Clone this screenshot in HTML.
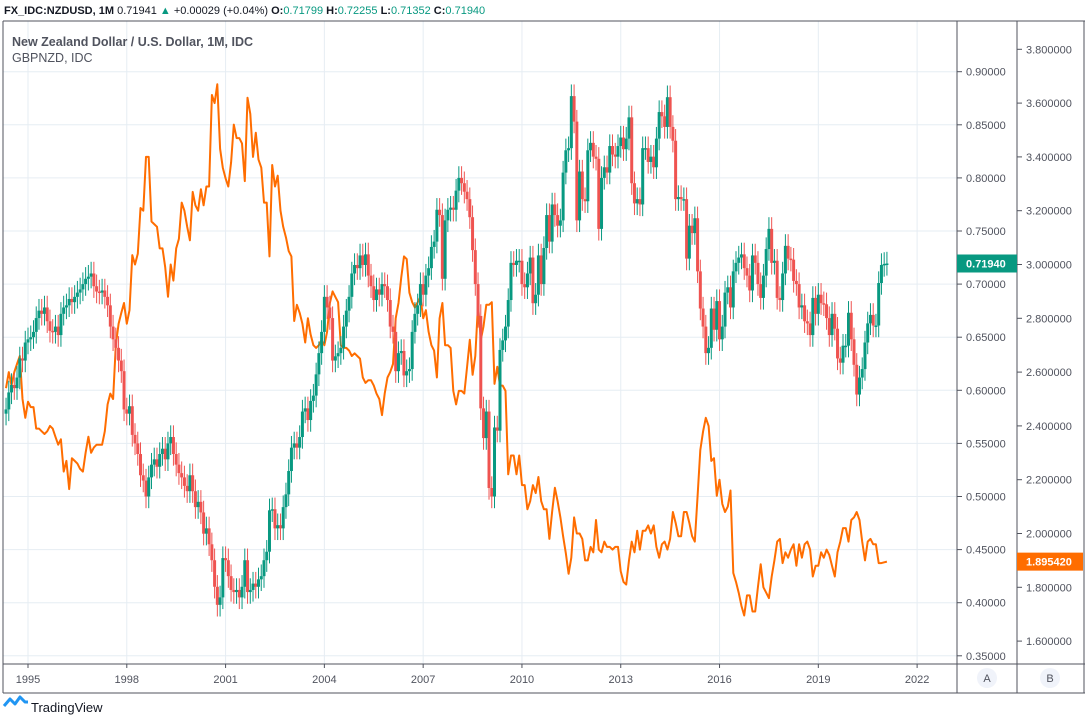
<!DOCTYPE html>
<html><head><meta charset="utf-8"><style>
html,body{margin:0;padding:0;background:#fff;width:1085px;height:722px;overflow:hidden;font-family:"Liberation Sans",sans-serif}
svg text{font-family:"Liberation Sans",sans-serif}
</style></head><body>
<svg id="chart" width="1085" height="722" xmlns="http://www.w3.org/2000/svg">
<rect width="1085" height="722" fill="#fff"/>
<g id="grid"></g>
<g id="line"></g>
<g id="candles"></g>
<g id="axes"></g>
<text x="4" y="14" font-size="11" fill="#131722"><tspan font-weight="bold">FX_IDC:NZDUSD, 1M</tspan> 0.71941 <tspan fill="#089981">▲</tspan> +0.00029 (+0.04%) <tspan font-weight="bold">O:</tspan><tspan fill="#089981">0.71799</tspan> <tspan font-weight="bold">H:</tspan><tspan fill="#089981">0.72255</tspan> <tspan font-weight="bold">L:</tspan><tspan fill="#089981">0.71352</tspan> <tspan font-weight="bold">C:</tspan><tspan fill="#089981">0.71940</tspan></text>
<text x="12" y="46" font-size="12.5" font-weight="bold" fill="#50535e">New Zealand Dollar / U.S. Dollar, 1M, IDC</text>
<text x="12" y="62" font-size="12.5" fill="#50535e">GBPNZD, IDC</text>
<g>
<path d="M4 706 L10 699 L15 704 L20 697 L25 702 L28 702" stroke="#2196f3" stroke-width="3" fill="none" stroke-linejoin="round"/>
<text x="31" y="712" font-size="13" fill="#131722">TradingView</text>
</g>
</svg>
<script>
const startYear = 1994, startMonth = 4; // May 1994 (0-based month)
const nzdClose = [
0.582,0.598,0.605,0.602,0.612,0.630,0.628,0.645,
0.648,0.650,0.655,0.668,0.675,0.672,0.678,0.665,0.656,0.655,0.660,0.652,
0.672,0.678,0.680,0.686,0.683,0.688,0.692,0.695,0.700,0.705,0.707,0.710,
0.698,0.693,0.692,0.694,0.688,0.680,0.660,0.648,0.640,0.628,0.618,0.582,
0.578,0.585,0.558,0.550,0.540,0.520,0.515,0.500,0.518,0.530,0.535,0.528,
0.540,0.545,0.535,0.550,0.556,0.540,0.530,0.522,0.518,0.510,0.505,0.520,
0.505,0.490,0.495,0.485,0.465,0.470,0.455,0.440,0.415,0.398,0.405,0.442,
0.440,0.425,0.412,0.410,0.412,0.405,0.415,0.440,0.410,0.412,0.418,0.415,
0.422,0.425,0.440,0.448,0.487,0.488,0.470,0.473,0.470,0.490,0.502,0.524,
0.546,0.550,0.546,0.556,0.580,0.583,0.572,0.590,0.595,0.615,0.635,0.655,
0.688,0.678,0.668,0.628,0.632,0.635,0.640,0.660,0.675,0.688,0.710,0.718,
0.715,0.727,0.718,0.728,0.708,0.698,0.685,0.695,0.690,0.700,0.698,0.685,
0.660,0.655,0.618,0.635,0.637,0.614,0.618,0.620,0.655,0.672,0.680,0.700,
0.690,0.708,0.715,0.735,0.740,0.770,0.765,0.705,0.760,0.770,0.772,0.770,
0.788,0.800,0.795,0.787,0.780,0.763,0.732,0.700,0.670,0.583,0.555,0.580,
0.508,0.500,0.565,0.562,0.638,0.647,0.660,0.685,0.720,0.718,0.722,0.722,
0.700,0.697,0.710,0.725,0.682,0.690,0.727,0.700,0.734,0.765,0.740,0.775,
0.765,0.755,0.760,0.805,0.826,0.828,0.877,0.853,0.760,0.806,0.780,0.778,
0.826,0.833,0.820,0.818,0.752,0.800,0.810,0.805,0.830,0.822,0.820,0.830,
0.838,0.827,0.837,0.857,0.795,0.776,0.780,0.775,0.828,0.828,0.815,0.820,
0.810,0.837,0.862,0.858,0.848,0.876,0.848,0.835,0.780,0.782,0.780,0.780,
0.724,0.755,0.748,0.762,0.712,0.677,0.660,0.635,0.640,0.677,0.657,0.684,
0.648,0.660,0.692,0.697,0.678,0.712,0.720,0.725,0.728,0.715,0.708,0.694,
0.727,0.720,0.700,0.687,0.708,0.733,0.752,0.720,0.722,0.687,0.685,0.710,
0.736,0.724,0.723,0.703,0.700,0.678,0.680,0.665,0.663,0.652,0.687,0.672,
0.690,0.682,0.681,0.668,0.652,0.672,0.658,0.630,0.626,0.642,0.642,0.673,
0.648,0.624,0.596,0.612,0.620,0.645,0.663,0.671,0.661,0.661,0.701,0.718,
0.719,0.7194];
const gbpnzd = [
2.54,2.60,2.55,2.60,2.63,2.66,2.50,2.43,
2.49,2.47,2.47,2.39,2.39,2.38,2.37,2.38,2.40,2.39,2.36,2.33,
2.35,2.23,2.27,2.165,2.28,2.27,2.26,2.24,2.23,2.30,2.36,2.30,
2.32,2.33,2.33,2.33,2.38,2.48,2.52,2.50,2.70,2.78,2.82,2.857,
2.78,2.83,3.035,3.00,3.04,3.21,3.20,3.40,3.40,3.16,3.15,3.14,
3.06,3.06,2.99,2.88,3.00,2.94,3.06,3.095,3.23,3.20,3.14,3.09,
3.27,3.22,3.20,3.28,3.22,3.29,3.29,3.63,3.60,3.67,3.43,3.36,
3.32,3.29,3.38,3.52,3.47,3.47,3.45,3.31,3.62,3.56,3.40,3.49,
3.39,3.36,3.23,3.23,3.03,3.37,3.29,3.33,3.20,3.14,3.10,3.05,
3.03,2.79,2.85,2.82,2.78,2.71,2.80,2.74,2.70,2.69,2.70,2.72,
2.70,2.75,2.857,2.90,2.88,2.86,2.70,2.69,2.69,2.68,2.66,2.67,
2.66,2.65,2.58,2.56,2.57,2.57,2.55,2.52,2.50,2.44,2.52,2.58,
2.60,2.63,2.80,2.857,2.95,3.03,3.02,2.895,2.86,2.84,2.86,2.88,
2.80,2.83,2.75,2.70,2.68,2.58,2.80,2.857,2.70,2.70,2.69,2.53,
2.48,2.53,2.53,2.52,2.62,2.72,2.59,2.66,2.85,2.72,2.77,2.85,
2.85,2.86,2.556,2.62,2.55,2.55,2.53,2.22,2.29,2.29,2.22,2.29,
2.18,2.18,2.09,2.12,2.18,2.15,2.21,2.12,2.09,2.09,1.98,2.08,
2.17,2.12,2.06,1.99,1.925,1.85,1.91,2.06,2.00,2.00,1.98,1.90,
1.90,1.95,1.93,2.05,1.94,1.93,1.97,1.95,1.95,1.94,1.95,1.95,
1.86,1.82,1.81,1.90,1.97,1.93,2.01,1.94,2.01,2.01,2.03,2.00,
2.03,1.95,1.91,1.96,1.97,1.94,1.98,2.08,2.04,1.99,1.99,2.08,
2.08,2.04,1.99,1.97,2.14,2.31,2.38,2.43,2.40,2.27,2.28,2.14,
2.20,2.11,2.08,2.10,2.16,1.853,1.82,1.78,1.73,1.695,1.77,1.77,
1.71,1.71,1.80,1.886,1.80,1.78,1.76,1.84,1.90,1.97,1.98,1.89,
1.93,1.91,1.94,1.96,1.88,1.96,1.91,1.96,1.97,1.94,1.84,1.88,
1.88,1.93,1.91,1.94,1.92,1.88,1.84,1.93,1.97,2.02,2.02,1.97,
2.05,2.06,2.08,2.05,1.97,1.90,1.97,1.98,1.96,1.96,1.89,1.89,
1.893,1.89542];
const yearTicks = [1995,1998,2001,2004,2007,2010,2013,2016,2019,2022];
const ticksA = [0.90,0.85,0.80,0.75,0.70,0.65,0.60,0.55,0.50,0.45,0.40,0.35];
const ticksB = [3.8,3.6,3.4,3.2,3.0,2.8,2.6,2.4,2.2,2.0,1.8,1.6];

const NS='http://www.w3.org/2000/svg';
const plotL=3, plotR=957, plotT=21, plotB=664;
function xT(t){return 28+(t-1995)*32.93;}
function xM(i){const m=startMonth+i;return xT(startYear+m/12);}
function yA(v){return 71.7+(0.90-v)*1062;}
function yB(v){return 49.3+(3.8-v)/0.2*53.8;}
function mk(tag,attrs,parent){const e=document.createElementNS(NS,tag);for(const k in attrs)e.setAttribute(k,attrs[k]);parent.appendChild(e);return e;}

const grid=document.getElementById('grid');
const axes=document.getElementById('axes');
ticksA.forEach(v=>{
  const l=mk('line',{x1:plotL,x2:plotR,y1:yA(v),y2:yA(v),stroke:'#e6edf3','stroke-width':1},grid);
  
  
});
yearTicks.forEach(y=>{
  const l=mk('line',{x1:xT(y),x2:xT(y),y1:plotT,y2:plotB,stroke:'#e6edf3','stroke-width':1},grid);
  
  
});

let d='';
gbpnzd.forEach((v,i)=>{d+=(i?'L':'M')+xM(i).toFixed(1)+' '+yB(v).toFixed(1);});
const path=mk('path',{d:d,fill:'none',stroke:'#ff6d00','stroke-width':2,'stroke-linejoin':'round'},document.getElementById('line'));



const cg=document.getElementById('candles');
nzdClose.forEach((c,i)=>{
  const o=i?nzdClose[i-1]:c-0.004;
  const up=c>=o;
  const col=up?'#089981':'#ef5350';
  const hi=Math.max(o,c)+0.011, lo=Math.min(o,c)-0.011;
  const x=xM(i);
  const g=mk('g',{},cg);
  
  
  mk('line',{x1:x,x2:x,y1:yA(hi),y2:yA(lo),stroke:col,'stroke-width':1},g);
  const top=yA(Math.max(o,c)), h=Math.max(1.5,yA(Math.min(o,c))-top);
  mk('rect',{x:x-1.5,y:top,width:3,height:h,fill:col},g);
});

mk('line',{x1:plotL,x2:plotL,y1:plotT,y2:693,stroke:'#50535e'},axes);
mk('line',{x1:plotL,x2:1085,y1:plotT,y2:plotT,stroke:'#50535e'},axes);
mk('line',{x1:plotL,x2:1085,y1:plotB,y2:plotB,stroke:'#50535e'},axes);
mk('line',{x1:plotL,x2:1085,y1:693,y2:693,stroke:'#50535e'},axes);
mk('line',{x1:957,x2:957,y1:plotT,y2:693,stroke:'#50535e'},axes);
mk('line',{x1:1017,x2:1017,y1:plotT,y2:693,stroke:'#50535e'},axes);
mk('line',{x1:1084,x2:1084,y1:plotT,y2:693,stroke:'#50535e'},axes);

ticksA.forEach(v=>{
  mk('line',{x1:957,x2:962,y1:yA(v),y2:yA(v),stroke:'#50535e'},axes);
  const t=mk('text',{x:966,y:yA(v)+4,'font-size':11,fill:'#50535e'},axes);
  t.textContent=v.toFixed(5);
  
  
});
ticksB.forEach(v=>{
  mk('line',{x1:1017,x2:1022,y1:yB(v),y2:yB(v),stroke:'#50535e'},axes);
  const t=mk('text',{x:1026,y:yB(v)+4,'font-size':11,fill:'#50535e'},axes);
  t.textContent=v.toFixed(6);
  
  
});
yearTicks.forEach(y=>{
  mk('line',{x1:xT(y),x2:xT(y),y1:plotB,y2:plotB+4,stroke:'#50535e'},axes);
  const t=mk('text',{x:xT(y),y:683,'font-size':11,fill:'#50535e','text-anchor':'middle'},axes);
  t.textContent=y;
  
  
});
const lastA=nzdClose[nzdClose.length-1], lastB=gbpnzd[gbpnzd.length-1];
const la=mk('g',{},axes);


mk('rect',{x:957,y:yA(lastA)-9,width:60,height:18,fill:'#089981'},la);
mk('text',{x:966,y:yA(lastA)+4,'font-size':11,'font-weight':'bold',fill:'#fff'},la).textContent=lastA.toFixed(5);
const lb=mk('g',{},axes);


mk('rect',{x:1017,y:yB(lastB)-9,width:66,height:18,fill:'#ff6d00'},lb);
mk('text',{x:1026,y:yB(lastB)+4,'font-size':11,'font-weight':'bold',fill:'#fff'},lb).textContent=lastB.toFixed(6);
[['A',987],['B',1050]].forEach(([s,x])=>{
  const g=mk('g',{},axes);
  
  
  mk('circle',{cx:x,cy:678,r:10,fill:'#f0f3fa'},g);
  mk('text',{x:x,y:682,'font-size':11,fill:'#50535e','text-anchor':'middle'},g).textContent=s;
});
</script>
</body></html>
